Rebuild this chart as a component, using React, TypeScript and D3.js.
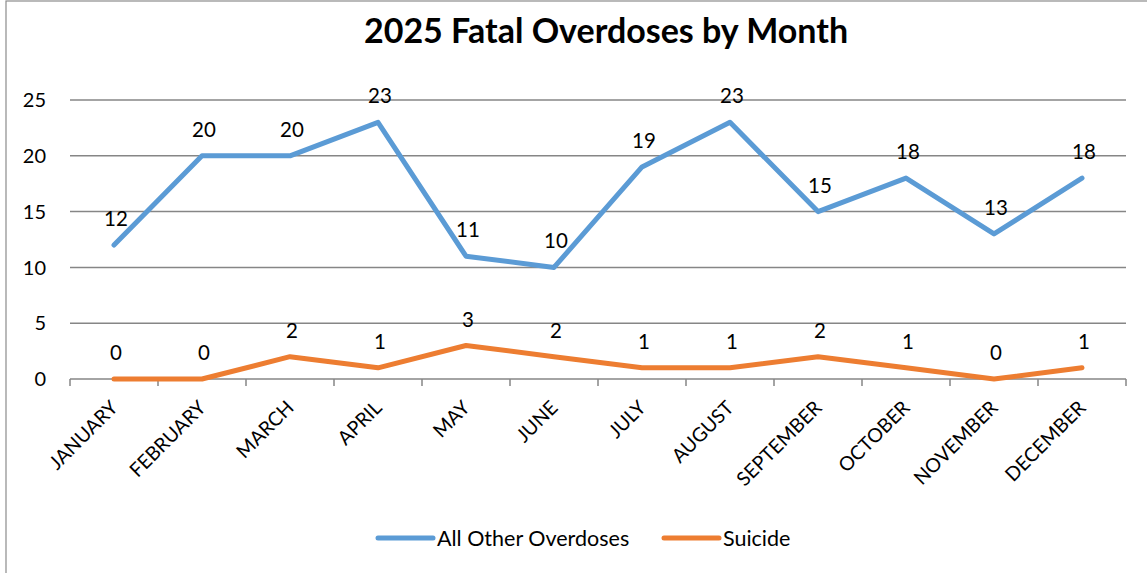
import React from "react";
import * as d3 from "d3";

const months = ["JANUARY","FEBRUARY","MARCH","APRIL","MAY","JUNE","JULY","AUGUST","SEPTEMBER","OCTOBER","NOVEMBER","DECEMBER"];
const allOther = [12,20,20,23,11,10,19,23,15,18,13,18];
const suicide = [0,0,2,1,3,2,1,1,2,1,0,1];
const yTicks = [0,5,10,15,20,25];
const seriesNames = ["All Other Overdoses","Suicide"];
const seriesColors = ["#5B9BD5","#ED7D31"];

const W = 1147, H = 573;
const FONT = "Lato, 'Open Sans', sans-serif";

export default function App() {
  const x = d3.scaleBand().domain(months).range([70, 1126]).paddingInner(0).paddingOuter(0);
  const y = d3.scaleLinear().domain([0, 25]).range([379, 100]);
  const cx = (m: string) => (x(m) as number) + x.bandwidth() / 2;
  const line = d3.line<number>().x((_, i) => cx(months[i])).y((d) => y(d));
  const series = [allOther, suicide];
  const tickXs = d3.range(months.length + 1).map((i) => 70 + i * x.step());

  return (
    <svg width={W} height={H} style={{ position: "absolute", left: 0, top: 0, background: "#fff" }} fontFamily={FONT}>
      <rect x={6} y={1} width={W + 20} height={H + 20} fill="#fff" stroke="#8c8c8c" strokeWidth={1.2} />
      <text x={606} y={43} textAnchor="middle" fontSize={34} fontWeight="bold" fill="#000">2025 Fatal Overdoses by Month</text>
      {yTicks.map((t) => (
        <g key={t}>
          <line x1={70} x2={1126} y1={y(t)} y2={y(t)} stroke="#868686" strokeWidth={1.5} />
          <text x={46} y={y(t)} dy="0.36em" textAnchor="end" fontSize={20} fill="#000">{t}</text>
        </g>
      ))}
      {tickXs.map((tx, i) => (
        <line key={i} x1={tx} x2={tx} y1={379} y2={386} stroke="#868686" strokeWidth={1.5} />
      ))}
      {months.map((m) => (
        <text key={m} transform={`translate(${cx(m) + 5},${409}) rotate(-45)`} textAnchor="end" fontSize={19.5} fill="#000">{m}</text>
      ))}
      {series.map((s, si) => (
        <path key={si} d={line(s) || ""} fill="none" stroke={seriesColors[si]} strokeWidth={5} strokeLinejoin="round" strokeLinecap="round" />
      ))}
      {series.map((s, si) =>
        s.map((v, i) => (
          <text key={`${si}-${i}`} x={cx(months[i]) + 2} y={y(v) - 19} textAnchor="middle" fontSize={20.5} fill="#000">{v}</text>
        ))
      )}
      {seriesNames.map((n, i) => {
        const lx = i === 0 ? 378 : 664;
        return (
          <g key={n}>
            <line x1={lx} x2={lx + 55} y1={538} y2={538} stroke={seriesColors[i]} strokeWidth={5} strokeLinecap="round" />
            <text x={lx + 59} y={538} dy="0.36em" fontSize={21.5} fill="#000">{n}</text>
          </g>
        );
      })}
    </svg>
  );
}
